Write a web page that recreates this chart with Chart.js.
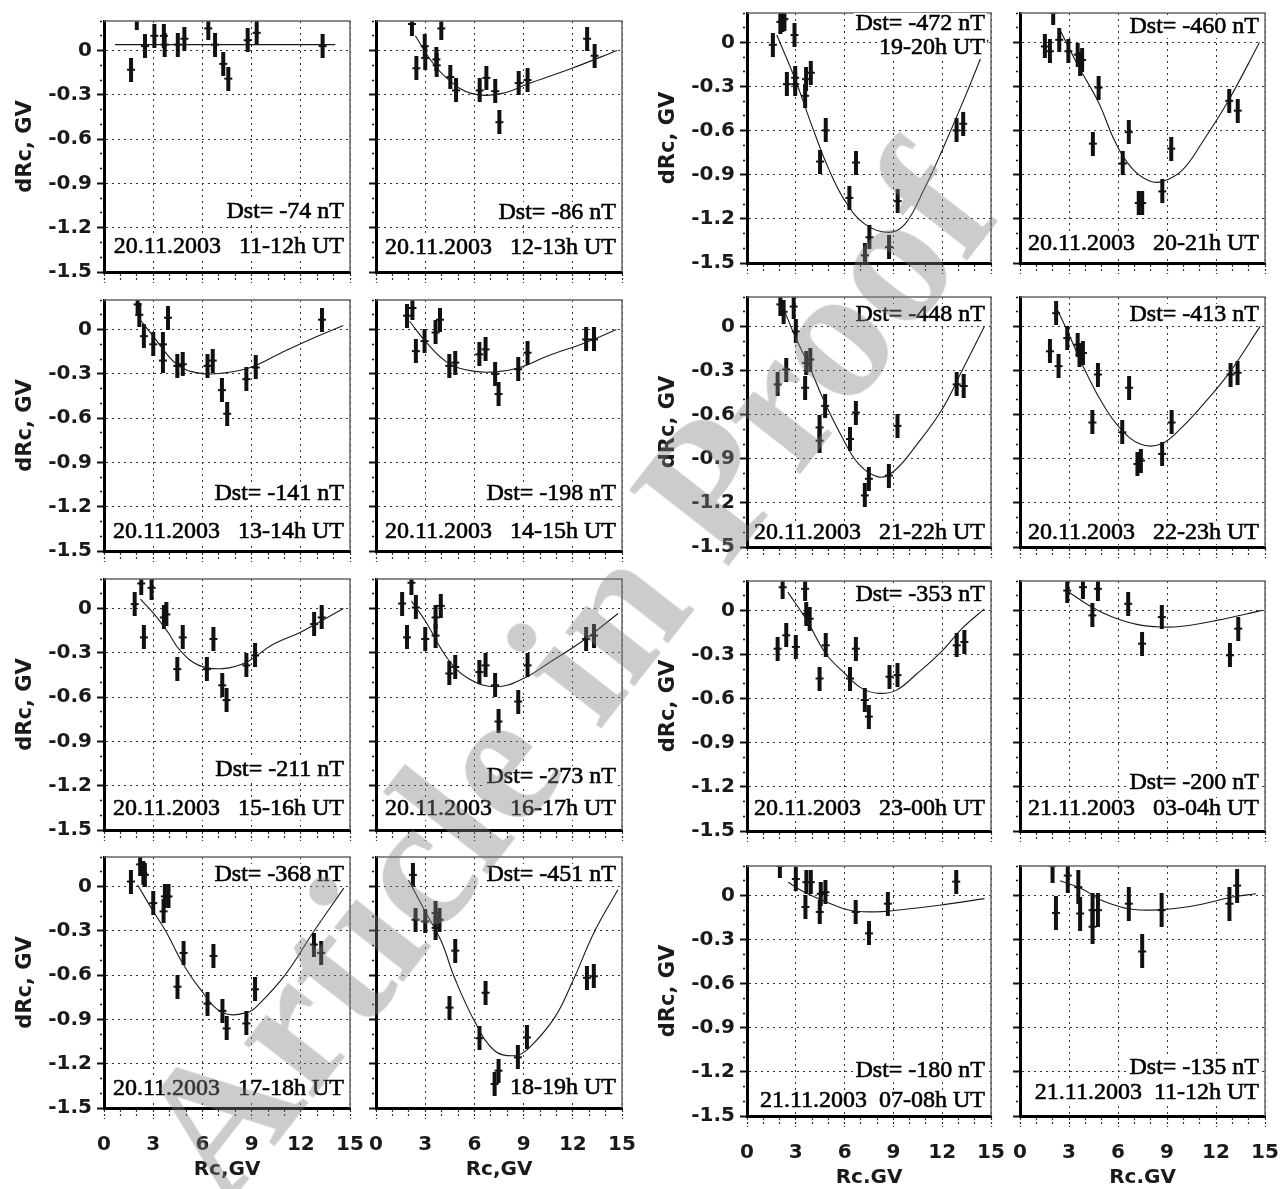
<!DOCTYPE html>
<html>
<head>
<meta charset="utf-8">
<script src="https://cdn.jsdelivr.net/npm/chart.js@4.4.1/dist/chart.umd.min.js"></script>
<style>
body { margin: 0; background: #fff; width: 1286px; height: 1189px; position: relative; overflow: hidden; }
canvas { position: absolute; }
#wm {
    position: absolute; left: 100px; top: 1112px;
    transform-origin: 0 0; transform: rotate(-52deg);
    font: bold 190px "Liberation Serif", serif; line-height: 1;
    color: rgba(128, 128, 128, 0.4); white-space: nowrap;
    z-index: 5; pointer-events: none;
}
</style>
</head>
<body>
<div id="wm">Article in Proof</div>
<script>
// cutoff rigidity shifts dRc vs Rc, one array per hourly interval: [Rc, dRc]
const obs_20_11 = [[1.65,-0.13],[2.0,0.22],[2.5,0.03],[3.07,0.10],[3.65,0.10],[3.7,0.04],[4.5,0.04],[4.9,0.08],[6.36,0.15],[6.77,0.04],[7.27,-0.09],[7.58,-0.19],[8.76,0.07],[9.31,0.12],[13.33,0.03]];
const fit_20_11 = [[0.67,0.04],[14.1,0.04]];

const obs_20_12 = [[2.19,0.18],[2.46,-0.12],[2.97,0.03],[3.0,-0.05],[3.68,-0.06],[3.7,-0.10],[3.98,0.15],[4.53,-0.18],[4.88,-0.27],[6.32,-0.27],[6.73,-0.185],[7.27,-0.275],[7.52,-0.485],[8.7,-0.22],[9.24,-0.2],[12.87,0.08],[13.33,-0.035]];
const fit_20_12 = [[2.4,0.10],[3.3,-0.06],[4.3,-0.185],[5.79,-0.29],[7.7,-0.29],[9.3,-0.224],[11.95,-0.12],[14.7,0.0]];

const obs_20_13 = [[2.05,0.17],[2.15,0.10],[2.43,-0.045],[3.0,-0.10],[3.59,-0.10],[3.59,-0.21],[3.9,0.08],[4.47,-0.246],[4.8,-0.235],[6.31,-0.246],[6.63,-0.21],[7.19,-0.41],[7.51,-0.57],[8.68,-0.336],[9.25,-0.257],[13.29,0.067]];
const fit_20_13 = [[2.12,0.078],[2.96,-0.04],[4.43,-0.235],[5.79,-0.295],[7.26,-0.295],[8.93,-0.257],[10.82,-0.157],[12.81,-0.056],[14.59,0.027]];

const obs_20_14 = [[1.89,0.094],[2.22,0.146],[2.43,-0.146],[2.96,-0.078],[3.63,-0.02],[3.9,0.067],[4.47,-0.246],[4.83,-0.224],[6.3,-0.168],[6.68,-0.134],[7.26,-0.30],[7.47,-0.437],[8.67,-0.269],[9.24,-0.157],[12.81,-0.067],[13.29,-0.067]];
const fit_20_14 = [[2.05,0.056],[3.0,-0.078],[4.37,-0.224],[5.84,-0.28],[7.3,-0.287],[8.78,-0.257],[10.46,-0.179],[12.77,-0.09],[14.66,0.0]];

const obs_20_15 = [[1.87,0.03],[2.27,0.17],[2.43,-0.195],[2.9,0.14],[3.65,-0.06],[3.8,-0.04],[4.47,-0.41],[4.8,-0.195],[6.27,-0.41],[6.67,-0.206],[7.21,-0.52],[7.47,-0.62],[8.68,-0.385],[9.21,-0.318],[12.81,-0.105],[13.27,-0.06]];
const fit_20_15 = [[2.22,0.063],[3.06,-0.038],[3.9,-0.161],[4.64,-0.284],[5.79,-0.385],[7.26,-0.407],[8.72,-0.362],[10.19,-0.25],[12.08,-0.155],[14.6,0.0]];

const obs_20_16 = [[1.59,0.034],[1.89,-0.195],[2.16,0.175],[2.43,0.007],[3.0,-0.206],[3.63,-0.06],[3.63,-0.183],[3.95,0.018],[4.47,-0.44],[4.83,-0.396],[6.3,-0.43],[6.68,-0.385],[7.26,-0.52],[7.47,-0.765],[8.67,-0.63],[9.24,-0.385],[12.81,-0.206],[13.29,-0.183]];
const fit_20_16 = [[2.16,0.05],[3.0,-0.083],[4.37,-0.34],[5.63,-0.474],[7.31,-0.53],[8.99,-0.474],[10.46,-0.374],[12.77,-0.206],[14.76,-0.034]];

const obs_20_17 = [[1.64,0.034],[2.2,0.15],[2.4,0.09],[2.49,0.079],[3.0,-0.112],[3.63,-0.168],[3.71,-0.067],[3.93,-0.067],[4.48,-0.678],[4.85,-0.45],[6.31,-0.793],[6.67,-0.47],[7.22,-0.842],[7.48,-0.961],[8.68,-0.927],[9.21,-0.696],[12.8,-0.393],[13.24,-0.449]];
const fit_20_17 = [[2.05,0.011],[3.0,-0.168],[3.77,-0.303],[4.78,-0.516],[5.8,-0.685],[7.22,-0.853],[8.74,-0.853],[9.45,-0.797],[11.07,-0.595],[12.8,-0.303],[14.62,-0.011]];

const obs_20_18 = [[2.25,0.079],[2.41,-0.225],[3.0,-0.236],[3.63,-0.18],[3.63,-0.28],[3.87,-0.225],[4.48,-0.82],[4.83,-0.434],[6.31,-1.027],[6.68,-0.719],[7.23,-1.337],[7.47,-1.247],[8.65,-1.157],[9.2,-1.022],[12.86,-0.618],[13.28,-0.607]];
const fit_20_18 = [[1.98,0.045],[3.0,-0.169],[3.98,-0.371],[4.79,-0.618],[6.0,-0.91],[7.23,-1.112],[8.45,-1.146],[9.26,-1.101],[10.89,-0.888],[12.0,-0.64],[13.33,-0.303],[14.75,-0.022]];

const obs_20_19 = [[1.59,-0.016],[2.05,0.14],[2.18,0.15],[2.3,0.16],[2.45,-0.284],[2.92,0.05],[2.96,-0.24],[2.96,-0.284],[3.57,-0.363],[3.63,-0.25],[3.92,-0.206],[4.49,-0.81],[4.84,-0.598],[6.29,-1.057],[6.7,-0.817],[7.25,-1.448],[7.52,-1.325],[8.73,-1.392],[9.26,-1.079],[12.88,-0.598],[13.29,-0.553]];
const fit_20_19 = [[1.83,0.05],[2.96,-0.25],[3.98,-0.564],[5.0,-0.855],[6.03,-1.079],[7.25,-1.236],[8.69,-1.292],[9.71,-1.236],[10.93,-0.989],[11.96,-0.743],[13.39,-0.374],[14.82,0.018]];

const obs_20_20 = [[1.52,-0.027],[1.83,-0.06],[2.03,0.2],[2.4,0.018],[2.96,-0.06],[3.53,-0.083],[3.68,-0.15],[3.8,-0.12],[4.46,-0.688],[4.81,-0.307],[6.29,-0.823],[6.66,-0.61],[7.27,-1.092],[7.48,-1.092],[8.71,-1.013],[9.26,-0.722],[12.81,-0.397],[13.33,-0.464]];
const fit_20_20 = [[2.45,0.085],[3.57,-0.161],[4.81,-0.408],[5.83,-0.677],[6.86,-0.857],[7.89,-0.94],[8.71,-0.946],[9.94,-0.868],[11.17,-0.677],[12.81,-0.386],[14.66,0.0]];

const obs_20_21 = [[1.88,-0.394],[2.05,0.15],[2.25,0.10],[2.41,-0.293],[2.87,0.135],[3.0,-0.034],[3.57,-0.417],[3.64,-0.248],[3.89,-0.225],[4.46,-0.777],[4.46,-0.687],[4.8,-0.54],[6.33,-0.766],[6.69,-0.586],[7.24,-1.149],[7.49,-1.036],[8.72,-1.014],[9.25,-0.676],[12.89,-0.394],[13.32,-0.405]];
const fit_20_21 = [[2.19,0.135],[3.0,-0.079],[3.78,-0.259],[4.74,-0.507],[5.8,-0.743],[6.86,-0.935],[8.13,-1.025],[9.08,-0.98],[10.46,-0.8],[11.94,-0.574],[13.21,-0.304],[14.59,0.0]];

const obs_20_22 = [[1.83,-0.169],[2.21,0.09],[2.36,-0.27],[2.89,-0.079],[3.53,-0.124],[3.64,-0.191],[3.85,-0.18],[4.43,-0.653],[4.77,-0.327],[6.26,-0.72],[6.68,-0.417],[7.19,-0.935],[7.4,-0.912],[8.7,-0.867],[9.28,-0.653],[12.89,-0.327],[13.32,-0.315]];
const fit_20_22 = [[2.15,0.146],[3.0,-0.056],[3.96,-0.293],[5.02,-0.518],[6.09,-0.687],[7.36,-0.8],[8.64,-0.8],[9.91,-0.687],[11.4,-0.507],[12.89,-0.304],[14.7,0.0]];

const obs_20_23 = [[1.88,-0.26],[2.19,0.158],[2.41,-0.169],[3.0,-0.248],[3.57,0.147],[3.64,-0.023],[3.85,-0.056],[4.46,-0.463],[4.84,-0.237],[6.33,-0.463],[6.69,-0.26],[7.24,-0.609],[7.49,-0.722],[8.76,-0.451],[9.25,-0.44],[12.89,-0.237],[13.36,-0.214]];
const fit_20_23 = [[2.51,0.124],[3.68,-0.068],[4.84,-0.293],[6.01,-0.429],[7.07,-0.53],[8.13,-0.564],[9.19,-0.542],[10.46,-0.429],[11.94,-0.282],[13.21,-0.124],[14.59,0.011]];

const obs_21_03 = [[2.89,0.135],[3.85,0.158],[4.43,-0.034],[4.77,0.147],[6.62,0.045],[7.47,-0.226],[8.68,-0.045],[12.85,-0.305],[13.36,-0.124]];
const fit_21_03 = [[3.0,0.124],[4.38,0.023],[5.66,-0.045],[7.15,-0.095],[8.64,-0.113],[9.91,-0.108],[12.04,-0.068],[14.81,0.0]];

const obs_21_07 = [[2.02,0.2],[3.0,0.112],[3.59,-0.078],[3.65,0.09],[3.92,0.09],[4.47,-0.112],[4.53,0.011],[4.82,0.022],[6.68,-0.112],[7.5,-0.258],[8.66,-0.056],[12.86,0.094]];
const fit_21_07 = [[2.53,0.09],[3.45,0.027],[4.88,-0.045],[6.31,-0.101],[7.74,-0.112],[9.18,-0.101],[11.83,-0.067],[14.6,-0.022]];

const obs_21_11 = [[1.99,0.2],[2.2,-0.119],[2.92,0.135],[3.57,0.056],[3.68,-0.123],[4.44,-0.213],[4.44,-0.1],[4.77,-0.1],[6.66,-0.056],[7.48,-0.381],[8.67,-0.1],[12.82,-0.056],[13.29,0.067]];
const fit_21_11 = [[2.45,0.1],[3.78,0.045],[5.01,-0.034],[6.86,-0.094],[8.91,-0.094],[10.97,-0.063],[13.02,-0.011],[14.46,0.011]];

const dstValues = [-74, -86, -141, -198, -211, -273, -368, -451, -472, -460, -448, -413, -353, -200, -180, -135];
const periodLabels = [
    '20.11.2003   11-12h UT', '20.11.2003   12-13h UT',
    '20.11.2003   13-14h UT', '20.11.2003   14-15h UT',
    '20.11.2003   15-16h UT', '20.11.2003   16-17h UT',
    '20.11.2003   17-18h UT', '18-19h UT',
    '19-20h UT', '20.11.2003   20-21h UT',
    '20.11.2003   21-22h UT', '20.11.2003   22-23h UT',
    '20.11.2003   23-00h UT', '21.11.2003   03-04h UT',
    '21.11.2003  07-08h UT', '21.11.2003  11-12h UT'
];
const xTicks = [0, 3, 6, 9, 12, 15];
const yTicks = [0, -0.3, -0.6, -0.9, -1.2, -1.5];

const observed = [obs_20_11, obs_20_12, obs_20_13, obs_20_14, obs_20_15, obs_20_16, obs_20_17, obs_20_18,
                  obs_20_19, obs_20_20, obs_20_21, obs_20_22, obs_20_23, obs_21_03, obs_21_07, obs_21_11];
const fitted = [fit_20_11, fit_20_12, fit_20_13, fit_20_14, fit_20_15, fit_20_16, fit_20_17, fit_20_18,
                fit_20_19, fit_20_20, fit_20_21, fit_20_22, fit_20_23, fit_21_03, fit_21_07, fit_21_11];

// panel frames in page pixels; note offsets: >0 from top, <0 from bottom
const panels = [
    {left: 104, top: 18,  w: 246, h: 254, ylab: true,  xlab: null,    dstY: -60, perY: -25, bar: 12},
    {left: 376, top: 18,  w: 246, h: 254, ylab: false, xlab: null,    dstY: -59, perY: -24, bar: 12},
    {left: 104, top: 297, w: 246, h: 254, ylab: true,  xlab: null,    dstY: -57, perY: -19, bar: 12},
    {left: 376, top: 297, w: 246, h: 254, ylab: false, xlab: null,    dstY: -57, perY: -19, bar: 12},
    {left: 104, top: 576, w: 246, h: 254, ylab: true,  xlab: null,    dstY: -60, perY: -21, bar: 12},
    {left: 376, top: 576, w: 246, h: 254, ylab: false, xlab: null,    dstY: -53, perY: -21, bar: 12},
    {left: 104, top: 854, w: 246, h: 254, ylab: true,  xlab: 'Rc,GV', dstY: 18,  perY: -19, bar: 12},
    {left: 376, top: 854, w: 246, h: 254, ylab: false, xlab: 'Rc,GV', dstY: 18,  perY: -20, bar: 12},
    {left: 747, top: 10,  w: 244, h: 253, ylab: true,  xlab: null,    dstY: 11,  perY: 35,  bar: 12},
    {left: 1020, top: 10, w: 245, h: 253, ylab: false, xlab: null,    dstY: 14,  perY: -19, bar: 12},
    {left: 747, top: 294, w: 244, h: 253, ylab: true,  xlab: null,    dstY: 18,  perY: -14, bar: 12},
    {left: 1020, top: 294, w: 245, h: 253, ylab: false, xlab: null,   dstY: 18,  perY: -14, bar: 12},
    {left: 747, top: 578, w: 244, h: 253, ylab: true,  xlab: null,    dstY: 14,  perY: -22, bar: 12},
    {left: 1020, top: 578, w: 245, h: 253, ylab: false, xlab: null,   dstY: -48, perY: -22, bar: 12},
    {left: 747, top: 863, w: 244, h: 253, ylab: true,  xlab: 'Rc.GV', dstY: -45, perY: -15, bar: 12},
    {left: 1020, top: 863, w: 245, h: 253, ylab: false, xlab: 'Rc.GV', dstY: -48, perY: -23, bar: 17}
];

const SANS = '"DejaVu Sans", sans-serif';
const PAD_LEFT = 100, PAD_TOP = 14, PAD_RIGHT = 30, X_BOX = 75;

function isMajorY(v) { return yTicks.includes(Math.round(v * 10) / 10); }
function isMajorX(v) { return xTicks.includes(Math.round(v)); }
function toXY(p) { return {x: p[0], y: p[1]}; }

// vertical error bar with a short horizontal tick through the centre
function makeMarker(half) {
    const c = document.createElement('canvas');
    c.width = 10;
    c.height = half * 2;
    const g = c.getContext('2d');
    g.fillStyle = '#111';
    g.fillRect(3, 0, 4, half * 2);
    g.fillRect(1, half - 1, 8, 2);
    return c;
}

// thin top/right frame plus the Dst and period notes
const panelText = {
    id: 'panelText',
    afterDraw(chart, args, opts) {
        const ctx = chart.ctx, a = chart.chartArea;
        ctx.save();
        ctx.strokeStyle = '#666';
        ctx.lineWidth = 1.5;
        ctx.beginPath();
        ctx.moveTo(a.left, a.top);
        ctx.lineTo(a.right, a.top);
        ctx.lineTo(a.right, a.bottom);
        ctx.stroke();

        ctx.font = '24px "Liberation Serif", serif';
        ctx.textAlign = 'right';
        ctx.textBaseline = 'middle';
        ctx.lineWidth = 0.6;
        ctx.strokeStyle = '#000';
        for (const n of opts.notes) {
            const y = n.y >= 0 ? a.top + n.y : a.bottom + n.y;
            const x = a.right - 6;
            const w = ctx.measureText(n.text).width;
            ctx.fillStyle = '#fff';
            ctx.fillRect(x - w - 2, y - 11, w + 4, 22);
            ctx.fillStyle = '#000';
            ctx.fillText(n.text, x, y);
            ctx.strokeText(n.text, x, y);
        }
        ctx.restore();
    }
};

panels.forEach((p, i) => {
    const cv = document.createElement('canvas');
    cv.width = p.w + PAD_LEFT + PAD_RIGHT;
    cv.height = p.h + PAD_TOP + X_BOX;
    cv.style.left = (p.left - PAD_LEFT) + 'px';
    cv.style.top = (p.top - PAD_TOP) + 'px';
    document.body.insertBefore(cv, document.getElementById('wm'));

    const notes = [
        {text: 'Dst= ' + dstValues[i] + ' nT', y: p.dstY},
        {text: periodLabels[i], y: p.perY}
    ];

    new Chart(cv, {
        type: 'scatter',
        data: {
            datasets: [{
                data: fitted[i].map(toXY),
                showLine: true,
                pointRadius: 0,
                borderColor: '#1a1a1a',
                borderWidth: 1.1,
                tension: 0.4
            }, {
                data: observed[i].map(toXY),
                pointStyle: makeMarker(p.bar),
                pointRadius: 12,
                borderWidth: 0,
                showLine: false
            }]
        },
        options: {
            responsive: false,
            animation: false,
            events: [],
            layout: {padding: {top: PAD_TOP, right: PAD_RIGHT, left: 0, bottom: 0}},
            plugins: {
                legend: {display: false},
                tooltip: {enabled: false},
                panelText: {notes: notes}
            },
            scales: {
                x: {
                    type: 'linear', min: 0, max: 15,
                    afterFit: s => { s.height = X_BOX; },
                    ticks: {
                        stepSize: 1, autoSkip: false, maxRotation: 0, padding: 14,
                        color: '#1a1a1a',
                        font: {family: SANS, weight: 'bold', size: 20},
                        callback: v => (p.xlab && isMajorX(v)) ? String(v) : ''
                    },
                    grid: {
                        color: c => isMajorX(c.tick.value) ? '#333' : 'rgba(0,0,0,0)',
                        lineWidth: 1,
                        tickLength: 11,
                        tickColor: '#333',
                        tickWidth: 1.2,
                        tickBorderDash: c => isMajorX(c.tick.value) ? [2, 2] : [2, 2, 2, 100]
                    },
                    border: {color: '#000', width: 3, dash: [2, 4]},
                    title: {
                        display: !!p.xlab, text: p.xlab || '',
                        color: '#1a1a1a',
                        font: {family: SANS, weight: 'bold', size: 20},
                        padding: {top: 0, bottom: 1}
                    }
                },
                y: {
                    type: 'linear', min: -1.5, max: 0.2,
                    afterFit: s => { s.width = PAD_LEFT; },
                    ticks: {
                        stepSize: 0.1, autoSkip: false, padding: 5,
                        color: '#1a1a1a',
                        font: {family: SANS, weight: 'bold', size: 20},
                        callback: v => {
                            if (!p.ylab || !isMajorY(v)) return '';
                            const r = Math.round(v * 10) / 10;
                            return r === 0 ? '0' : r.toFixed(1);
                        }
                    },
                    grid: {
                        color: c => isMajorY(c.tick.value) ? '#333' : 'rgba(0,0,0,0)',
                        lineWidth: 1,
                        tickLength: 7,
                        tickColor: '#111',
                        tickWidth: c => isMajorY(c.tick.value) ? 2 : 1.5,
                        tickBorderDash: c => isMajorY(c.tick.value) ? [] : [0, 3, 2, 100]
                    },
                    border: {color: '#000', width: 3, dash: [2, 4]},
                    title: {
                        display: p.ylab, text: 'dRc, GV',
                        color: '#1a1a1a',
                        font: {family: SANS, weight: 'bold', size: 21},
                        padding: {top: 9, bottom: 0}
                    }
                }
            }
        },
        plugins: [panelText]
    });
});
</script>
</body>
</html>
